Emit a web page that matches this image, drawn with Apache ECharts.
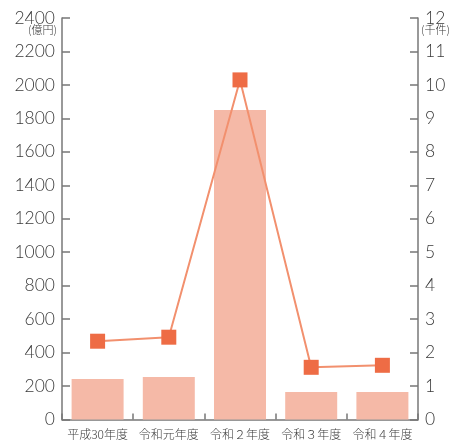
<!DOCTYPE html>
<html>
<head>
<meta charset="utf-8">
<script src="https://cdn.jsdelivr.net/npm/echarts@6/dist/echarts.min.js"></script>
<style>html,body{margin:0;padding:0;background:#fff;}#c{width:458px;height:441px;}</style>
</head>
<body>
<div id="c"></div>
<script>
const categories = ['平成30年度', '令和元年度', '令和２年度', '令和３年度', '令和４年度'];
const amountValues = [242, 254, 1850, 164, 164];       // 億円 (bars, left axis)
const countValues = [2.34, 2.46, 10.15, 1.56, 1.62];   // 千件 (line, right axis)
const leftUnit = '(億円)';
const rightUnit = '(千件)';

const chart = echarts.init(document.getElementById('c'), null, {renderer: 'canvas'});
const axisColor = '#777';
const textColor = '#3a3a3a';
const numFont = 'Lato';
const cjkFont = 'Noto Sans CJK JP';
const plain = v => String(v);

chart.setOption({
  animation: false,
  grid: {left: 62, right: 40, top: 18, bottom: 21.5, containLabel: false},
  xAxis: {
    type: 'category',
    data: categories,
    axisLine: {show: true, lineStyle: {color: axisColor, width: 1.5}},
    axisTick: {show: true, inside: true, length: 6, lineStyle: {color: axisColor, width: 1.5}},
    axisLabel: {color: textColor, fontSize: 12, fontFamily: cjkFont, fontWeight: 300, margin: 9, interval: 0}
  },
  yAxis: [
    {
      type: 'value', min: 0, max: 2400, interval: 200,
      axisLine: {show: true, lineStyle: {color: axisColor, width: 1.5}},
      axisTick: {show: true, inside: true, length: 8, lineStyle: {color: axisColor, width: 1.5}},
      splitLine: {show: false},
      axisLabel: {color: textColor, fontSize: 17.5, fontFamily: numFont, fontWeight: 300, margin: 7, formatter: plain}
    },
    {
      type: 'value', min: 0, max: 12, interval: 1,
      axisLine: {show: true, lineStyle: {color: axisColor, width: 1.5}},
      axisTick: {show: true, inside: true, length: 8, lineStyle: {color: axisColor, width: 1.5}},
      splitLine: {show: false},
      axisLabel: {color: textColor, fontSize: 17.5, fontFamily: numFont, fontWeight: 300, margin: 7, formatter: plain}
    }
  ],
  graphic: [
    {type: 'text', right: 401, top: 24, style: {text: leftUnit, fill: textColor, font: '300 11px "Noto Sans CJK JP"', textAlign: 'right'}},
    {type: 'text', left: 421, top: 24, style: {text: rightUnit, fill: textColor, font: '300 11px "Noto Sans CJK JP"'}}
  ],
  series: [
    {
      type: 'bar', yAxisIndex: 0, data: amountValues, barWidth: 52,
      itemStyle: {color: '#F5B9A7'}
    },
    {
      type: 'line', yAxisIndex: 1, data: countValues,
      symbol: 'rect', symbolSize: 15,
      lineStyle: {color: '#F2906E', width: 2},
      itemStyle: {color: '#EE6C45'}
    }
  ]
});
</script>
</body>
</html>
